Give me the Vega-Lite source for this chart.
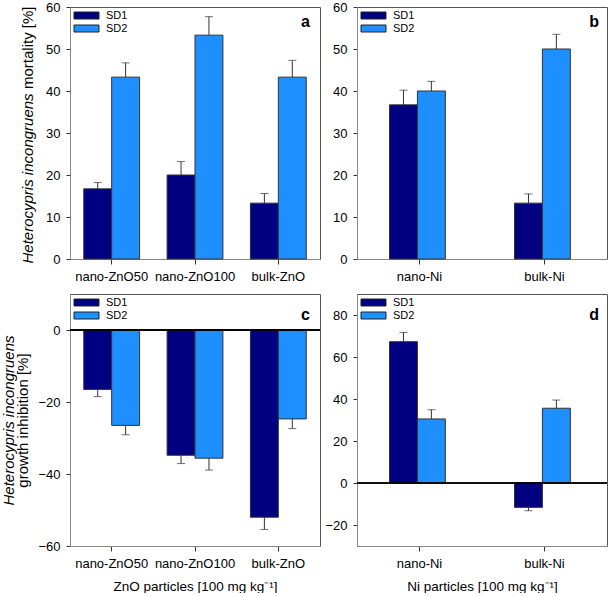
{
  "$schema": "https://vega.github.io/schema/vega-lite/v6.json",
  "padding": {"left": 0, "top": 0, "right": 0, "bottom": 0},
  "datasets": {
    "mortZnO": [
      {"p": "nano-ZnO50", "g": "SD1", "v": 16.7, "e": 18.2},
      {"p": "nano-ZnO50", "g": "SD2", "v": 43.3, "e": 46.7},
      {"p": "nano-ZnO100", "g": "SD1", "v": 20.0, "e": 23.2},
      {"p": "nano-ZnO100", "g": "SD2", "v": 53.3, "e": 57.7},
      {"p": "bulk-ZnO", "g": "SD1", "v": 13.3, "e": 15.6},
      {"p": "bulk-ZnO", "g": "SD2", "v": 43.3, "e": 47.3}
    ],
    "mortNi": [
      {"p": "nano-Ni", "g": "SD1", "v": 36.7, "e": 40.2},
      {"p": "nano-Ni", "g": "SD2", "v": 40.0, "e": 42.3},
      {"p": "bulk-Ni", "g": "SD1", "v": 13.3, "e": 15.5},
      {"p": "bulk-Ni", "g": "SD2", "v": 50.0, "e": 53.5}
    ],
    "growZnO": [
      {"p": "nano-ZnO50", "g": "SD1", "v": -16.5, "e": -18.5},
      {"p": "nano-ZnO50", "g": "SD2", "v": -26.5, "e": -29.1},
      {"p": "nano-ZnO100", "g": "SD1", "v": -34.8, "e": -37.1},
      {"p": "nano-ZnO100", "g": "SD2", "v": -35.6, "e": -38.9},
      {"p": "bulk-ZnO", "g": "SD1", "v": -52.0, "e": -55.4},
      {"p": "bulk-ZnO", "g": "SD2", "v": -24.7, "e": -27.4}
    ],
    "growNi": [
      {"p": "nano-Ni", "g": "SD1", "v": 67.3, "e": 71.7},
      {"p": "nano-Ni", "g": "SD2", "v": 30.5, "e": 34.9},
      {"p": "bulk-Ni", "g": "SD1", "v": -11.6, "e": -13.2},
      {"p": "bulk-Ni", "g": "SD2", "v": 35.6, "e": 39.5}
    ]
  },
  "columns": 2,
  "concat": [
    {
      "width": 250, "height": 252,
      "title": {"text": "a", "anchor": "end", "frame": "group", "offset": -20, "dx": -10, "dy": 22, "baseline": "alphabetic", "fontSize": 16, "fontWeight": "bold", "font": "Liberation Sans", "color": "#000"},
      "data": {"name": "mortZnO"},
      "layer": [
        {
          "mark": {"type": "bar", "stroke": "#333", "strokeWidth": 1},
          "encoding": {
            "x": {"field": "p", "type": "nominal", "sort": null, "scale": {"paddingInner": 0.33, "paddingOuter": 0.165}, "axis": {"title": null}},
            "xOffset": {"field": "g", "type": "nominal"},
            "y": {"field": "v", "type": "quantitative", "scale": {"domain": [0, 60], "nice": false}, "axis": {"values": [0, 10, 20, 30, 40, 50, 60], "title": "mortality [%]", "titleAlign": "right", "titleAngle": 270, "titleBaseline": "middle", "titleX": -43, "titleY": -1}},
            "color": {"field": "g", "type": "nominal", "scale": {"domain": ["SD1", "SD2"], "range": ["#000080", "#1E8FFF"]}, "legend": {"title": null, "orient": "none", "legendX": 11, "legendY": 3}}
          }
        },
        {
          "mark": {"type": "rule", "color": "#333"},
          "encoding": {
            "x": {"field": "p", "type": "nominal", "sort": null},
            "xOffset": {"field": "g", "type": "nominal"},
            "y": {"field": "v", "type": "quantitative", "axis": {"orient": "left", "labels": false, "ticks": false, "domain": false, "title": "Heterocypris incongruens", "titleFontStyle": "italic", "titleAlign": "left", "titleAngle": 270, "titleBaseline": "middle", "titleX": -43, "titleY": 256}},
            "y2": {"field": "e"}
          }
        },
        {
          "mark": {"type": "tick", "color": "#333", "size": 8, "thickness": 1},
          "encoding": {
            "x": {"field": "p", "type": "nominal", "sort": null},
            "xOffset": {"field": "g", "type": "nominal"},
            "y": {"field": "e", "type": "quantitative", "axis": null}
          }
        }
      ],
      "resolve": {"axis": {"y": "independent"}}
    },
    {
      "width": 250, "height": 252,
      "title": {"text": "b", "anchor": "end", "frame": "group", "offset": -20, "dx": -8, "dy": 22, "baseline": "alphabetic", "fontSize": 16, "fontWeight": "bold", "font": "Liberation Sans", "color": "#000"},
      "data": {"name": "mortNi"},
      "layer": [
        {
          "mark": {"type": "bar", "stroke": "#333", "strokeWidth": 1},
          "encoding": {
            "x": {"field": "p", "type": "nominal", "sort": null, "scale": {"paddingInner": 0.52, "paddingOuter": 0.26}, "axis": {"title": null}},
            "xOffset": {"field": "g", "type": "nominal"},
            "y": {"field": "v", "type": "quantitative", "scale": {"domain": [0, 60], "nice": false}, "axis": {"values": [0, 10, 20, 30, 40, 50, 60], "title": null}},
            "color": {"field": "g", "type": "nominal", "scale": {"domain": ["SD1", "SD2"], "range": ["#000080", "#1E8FFF"]}, "legend": {"title": null, "orient": "none", "legendX": 11, "legendY": 3}}
          }
        },
        {
          "mark": {"type": "rule", "color": "#333"},
          "encoding": {
            "x": {"field": "p", "type": "nominal", "sort": null},
            "xOffset": {"field": "g", "type": "nominal"},
            "y": {"field": "v", "type": "quantitative"},
            "y2": {"field": "e"}
          }
        },
        {
          "mark": {"type": "tick", "color": "#333", "size": 8, "thickness": 1},
          "encoding": {
            "x": {"field": "p", "type": "nominal", "sort": null},
            "xOffset": {"field": "g", "type": "nominal"},
            "y": {"field": "e", "type": "quantitative"}
          }
        }
      ]
    },
    {
      "width": 250, "height": 252,
      "title": {"text": "c", "anchor": "end", "frame": "group", "offset": -20, "dx": -10, "dy": 22, "baseline": "alphabetic", "fontSize": 16, "fontWeight": "bold", "font": "Liberation Sans", "color": "#000"},
      "data": {"name": "growZnO"},
      "layer": [
        {
          "mark": {"type": "bar", "stroke": "#333", "strokeWidth": 1},
          "encoding": {
            "x": {"field": "p", "type": "nominal", "sort": null, "scale": {"paddingInner": 0.33, "paddingOuter": 0.165}, "axis": {"title": "ZnO particles [100 mg kg⁻¹]"}},
            "xOffset": {"field": "g", "type": "nominal"},
            "y": {"field": "v", "type": "quantitative", "scale": {"domain": [-60, 10], "nice": false}, "axis": {"values": [-60, -40, -20, 0], "title": "growth inhibition [%]", "titleAngle": 270, "titleBaseline": "middle", "titleX": -48}},
            "color": {"field": "g", "type": "nominal", "scale": {"domain": ["SD1", "SD2"], "range": ["#000080", "#1E8FFF"]}, "legend": {"title": null, "orient": "none", "legendX": 11, "legendY": 3}}
          }
        },
        {
          "mark": {"type": "rule", "color": "#333"},
          "encoding": {
            "x": {"field": "p", "type": "nominal", "sort": null},
            "xOffset": {"field": "g", "type": "nominal"},
            "y": {"field": "v", "type": "quantitative", "axis": {"orient": "left", "labels": false, "ticks": false, "domain": false, "title": "Heterocypris incongruens", "titleFontStyle": "italic", "titleAngle": 270, "titleBaseline": "middle", "titleX": -62}},
            "y2": {"field": "e"}
          }
        },
        {
          "mark": {"type": "tick", "color": "#333", "size": 8, "thickness": 1},
          "encoding": {
            "x": {"field": "p", "type": "nominal", "sort": null},
            "xOffset": {"field": "g", "type": "nominal"},
            "y": {"field": "e", "type": "quantitative", "axis": null}
          }
        },
        {
          "mark": {"type": "rule", "color": "#000", "strokeWidth": 1},
          "encoding": {"y": {"datum": 0, "type": "quantitative", "axis": null}}
        }
      ],
      "resolve": {"axis": {"y": "independent"}}
    },
    {
      "width": 250, "height": 252,
      "title": {"text": "d", "anchor": "end", "frame": "group", "offset": -20, "dx": -8, "dy": 22, "baseline": "alphabetic", "fontSize": 16, "fontWeight": "bold", "font": "Liberation Sans", "color": "#000"},
      "data": {"name": "growNi"},
      "layer": [
        {
          "mark": {"type": "bar", "stroke": "#333", "strokeWidth": 1},
          "encoding": {
            "x": {"field": "p", "type": "nominal", "sort": null, "scale": {"paddingInner": 0.52, "paddingOuter": 0.26}, "axis": {"title": "Ni particles [100 mg kg⁻¹]"}},
            "xOffset": {"field": "g", "type": "nominal"},
            "y": {"field": "v", "type": "quantitative", "scale": {"domain": [-30, 90], "nice": false}, "axis": {"values": [-20, 0, 20, 40, 60, 80], "title": null}},
            "color": {"field": "g", "type": "nominal", "scale": {"domain": ["SD1", "SD2"], "range": ["#000080", "#1E8FFF"]}, "legend": {"title": null, "orient": "none", "legendX": 11, "legendY": 3}}
          }
        },
        {
          "mark": {"type": "rule", "color": "#333"},
          "encoding": {
            "x": {"field": "p", "type": "nominal", "sort": null},
            "xOffset": {"field": "g", "type": "nominal"},
            "y": {"field": "v", "type": "quantitative"},
            "y2": {"field": "e"}
          }
        },
        {
          "mark": {"type": "tick", "color": "#333", "size": 8, "thickness": 1},
          "encoding": {
            "x": {"field": "p", "type": "nominal", "sort": null},
            "xOffset": {"field": "g", "type": "nominal"},
            "y": {"field": "e", "type": "quantitative"}
          }
        },
        {
          "mark": {"type": "rule", "color": "#000", "strokeWidth": 1},
          "encoding": {"y": {"datum": 0, "type": "quantitative"}}
        }
      ]
    }
  ],
  "spacing": {"row": 35, "column": 37},
  "bounds": "flush",
  "resolve": {"scale": {"color": "independent"}, "legend": {"color": "independent"}},
  "config": {
    "font": "Liberation Sans",
    "background": "#ffffff",
    "view": {"stroke": "#555", "strokeWidth": 1},
    "axis": {"labelFont": "Liberation Sans", "labelFontSize": 13, "labelColor": "#000", "titleFont": "Liberation Sans", "titleFontSize": 15, "titleFontWeight": "normal", "titleColor": "#000", "domainColor": "#888", "tickColor": "#333", "grid": false},
    "axisX": {"labelAngle": 0, "tickSize": 5, "labelPadding": 6, "titleFontSize": 13.5, "titlePadding": 9},
    "axisY": {"tickSize": 4, "labelPadding": 6},
    "legend": {"symbolType": "M-3.57,-1H3.57V1H-3.57Z", "symbolSize": 49, "symbolStrokeColor": "#222", "symbolStrokeWidth": 1, "labelFontSize": 11, "labelFont": "Liberation Sans", "labelColor": "#000", "labelOffset": 14, "rowPadding": 1, "padding": 0}
  }
}
